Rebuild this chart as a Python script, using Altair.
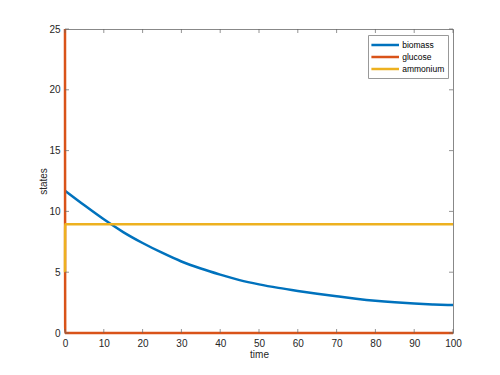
import altair as alt
import pandas as pd

# biomass readings
bio_t = [0, 5, 10, 15, 20, 25, 30, 35, 40, 45, 50, 55, 60, 65, 70, 75, 80, 85, 90, 95, 100]
bio_v = [11.7, 10.5, 9.35, 8.3, 7.4, 6.6, 5.88, 5.3, 4.8, 4.35, 4.0, 3.71, 3.46, 3.23, 3.02, 2.82, 2.65, 2.52, 2.42, 2.35, 2.3]
glu_t = [0, 0.05, 100]
glu_v = [25, 0, 0]
amm_t = [0, 0.05, 100]
amm_v = [5, 8.95, 8.95]

series = ["biomass", "glucose", "ammonium"]
colors = ["#0072BD", "#D95319", "#EDB120"]

x_ticks = [0, 10, 20, 30, 40, 50, 60, 70, 80, 90, 100]
y_ticks = [0, 5, 10, 15, 20, 25]

rows = []
for t, v in zip(bio_t, bio_v):
    rows.append({"time": t, "value": v, "series": "biomass"})
for t, v in zip(glu_t, glu_v):
    rows.append({"time": t, "value": v, "series": "glucose"})
for t, v in zip(amm_t, amm_v):
    rows.append({"time": t, "value": v, "series": "ammonium"})
df = pd.DataFrame(rows)

W, H = 388, 304
FONT = "Liberation Sans"

xs = alt.Scale(domain=[0, 100], nice=False)
ys = alt.Scale(domain=[0, 25], nice=False)
cs = alt.Scale(domain=series, range=colors)

xaxis = alt.Axis(values=x_ticks, domain=False, ticks=False, grid=False, labelPadding=5,
                 labelFlush=False,
                 labelFont=FONT, labelFontSize=10, labelColor="#262626",
                 title="time", titleFont=FONT, titleFontSize=10, titleFontWeight="normal",
                 titleColor="#262626", titlePadding=1)
yaxis = alt.Axis(values=y_ticks, domain=False, ticks=False, grid=False, labelPadding=5,
                 labelFlush=False,
                 labelFont=FONT, labelFontSize=10, labelColor="#262626",
                 title="states", titleFont=FONT, titleFontSize=10, titleFontWeight="normal",
                 titleColor="#262626", titlePadding=0)

legend = alt.Legend(title=None, orient="none", legendX=303, legendY=6,
                    symbolType="M-2.76,0H2.76", symbolSize=100, symbolStrokeWidth=2.5,
                    labelFont=FONT, labelFontSize=8.5, labelColor="#000000",
                    strokeColor="#999999", fillColor="white", padding=3.5,
                    rowPadding=0, labelOffset=10.5, symbolOffset=7.2)

base = alt.Chart(df)

def layer(name):
    return base.transform_filter(alt.datum.series == name).mark_line(
        strokeWidth=2.5, clip=False, interpolate="monotone"
    ).encode(
        x=alt.X("time:Q", scale=xs, axis=xaxis),
        y=alt.Y("value:Q", scale=ys, axis=yaxis),
        color=alt.Color("series:N", scale=cs, legend=legend),
    )

tx = pd.DataFrame({"t": x_ticks})
ty = pd.DataFrame({"v": y_ticks})
tick_color = "#666666"
xt_bot = alt.Chart(tx).mark_rule(color=tick_color, strokeWidth=0.7).encode(
    x=alt.X("t:Q", scale=xs, axis=xaxis), y=alt.value(H), y2=alt.value(H - 4))
xt_top = alt.Chart(tx).mark_rule(color=tick_color, strokeWidth=0.7).encode(
    x=alt.X("t:Q", scale=xs, axis=xaxis), y=alt.value(0), y2=alt.value(4))
yt_l = alt.Chart(ty).mark_rule(color=tick_color, strokeWidth=0.7).encode(
    y=alt.Y("v:Q", scale=ys, axis=yaxis), x=alt.value(0), x2=alt.value(4))
yt_r = alt.Chart(ty).mark_rule(color=tick_color, strokeWidth=0.7).encode(
    y=alt.Y("v:Q", scale=ys, axis=yaxis), x=alt.value(W), x2=alt.value(W - 4))

chart = alt.layer(
    layer("biomass"), layer("glucose"), layer("ammonium"),
    xt_bot, xt_top, yt_l, yt_r,
).properties(
    width=W, height=H, autosize="none",
    padding={"left": 65, "top": 29, "right": 47, "bottom": 42},
).configure_view(stroke="#888888", strokeWidth=1)

chart.save("out.html", embed_options={"renderer": "svg", "actions": False})
